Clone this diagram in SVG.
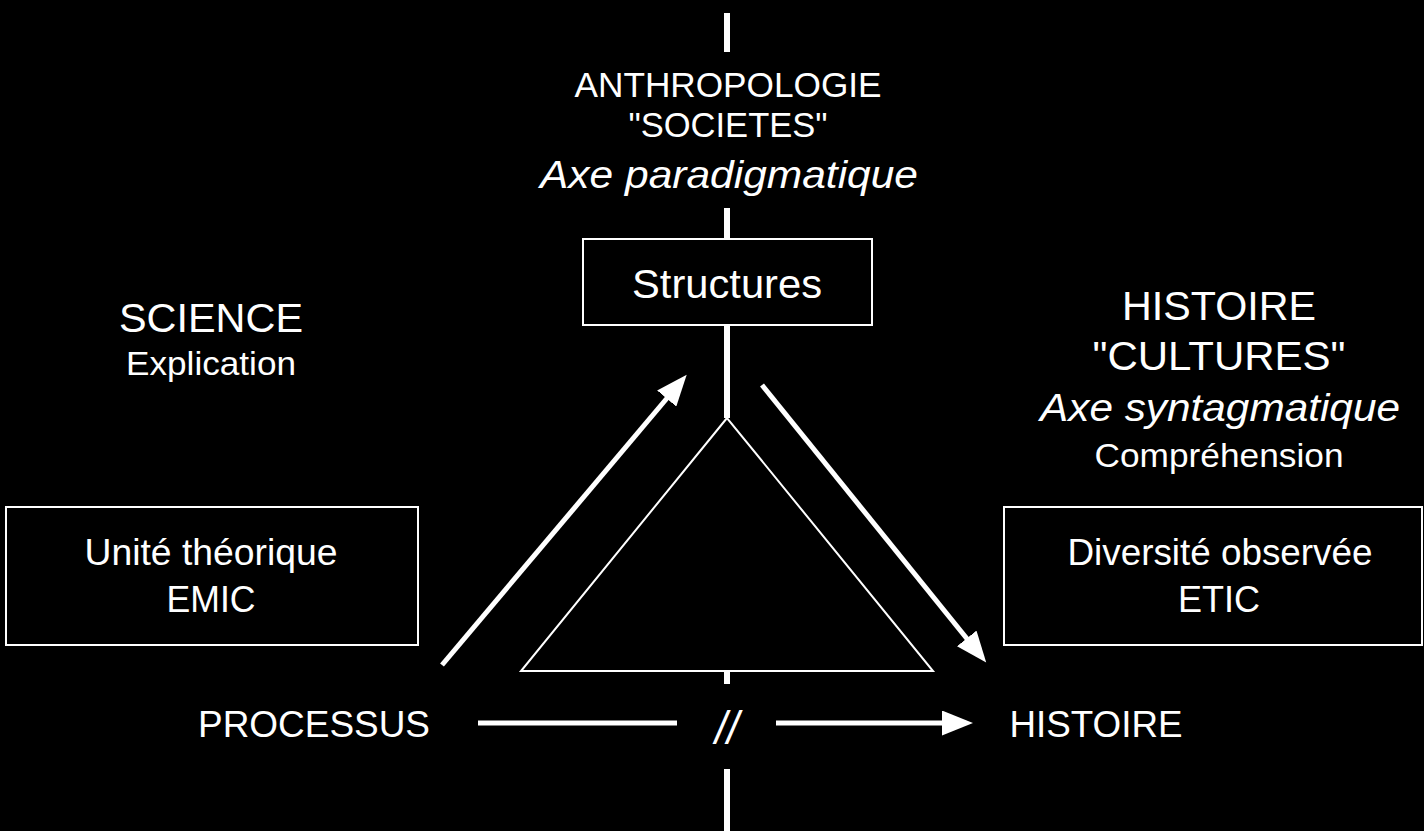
<svg xmlns="http://www.w3.org/2000/svg" width="1424" height="831" viewBox="0 0 1424 831">
<style>
  text { fill: #fff; font-family: "Liberation Sans", Arial, Helvetica, sans-serif; text-anchor: middle; }
  .it { font-style: italic; }
  .box { fill: none; stroke: #fff; stroke-width: 2; }
  .axis { stroke: #fff; stroke-width: 6; fill: none; }
  .arr { stroke: #fff; stroke-width: 5; fill: none; }
  .tri { fill: none; stroke: #fff; stroke-width: 2; stroke-linejoin: miter; }
</style>
<defs>
  <marker id="ah" markerUnits="userSpaceOnUse" markerWidth="32" markerHeight="25" refX="2" refY="12.5" orient="auto">
    <path d="M0,0 L31,12.5 L0,25 z" fill="#fff"/>
  </marker>
</defs>
<rect x="0" y="0" width="1424" height="831" fill="#000"/>

<g id="connectors">
  <line class="axis" x1="727" y1="13" x2="727" y2="52"/>
  <line class="axis" x1="727" y1="208" x2="727" y2="239"/>
  <line class="axis" x1="727" y1="325" x2="727" y2="418"/>
  <line class="axis" x1="727" y1="671" x2="727" y2="684"/>
  <line class="axis" x1="727" y1="769" x2="727" y2="831"/>
  <line class="arr" x1="442" y1="665" x2="668" y2="397" marker-end="url(#ah)"/>
  <line class="arr" x1="762" y1="385" x2="968" y2="640" marker-end="url(#ah)"/>
  <line class="arr" x1="478" y1="723" x2="677" y2="723"/>
  <line class="arr" x1="776" y1="723" x2="944" y2="723" marker-end="url(#ah)"/>
</g>

<g id="triangle">
  <polygon class="tri" points="727,418 521,671 933,671"/>
</g>

<g id="anthropologie">
  <text x="728" y="97" font-size="35" textLength="307" lengthAdjust="spacingAndGlyphs">ANTHROPOLOGIE</text>
  <text x="728" y="137" font-size="35" textLength="199" lengthAdjust="spacingAndGlyphs">"SOCIETES"</text>
  <text class="it" x="729" y="188" font-size="38" textLength="378" lengthAdjust="spacingAndGlyphs">Axe paradigmatique</text>
</g>

<g id="structures">
  <rect class="box" x="583" y="239" width="289" height="86"/>
  <text x="727" y="298" font-size="41" textLength="190" lengthAdjust="spacingAndGlyphs">Structures</text>
</g>

<g id="science">
  <text x="211" y="332" font-size="41" textLength="184" lengthAdjust="spacingAndGlyphs">SCIENCE</text>
  <text x="211" y="375" font-size="33" textLength="170" lengthAdjust="spacingAndGlyphs">Explication</text>
</g>

<g id="histoire-top">
  <text x="1219" y="320" font-size="41" textLength="194" lengthAdjust="spacingAndGlyphs">HISTOIRE</text>
  <text x="1219" y="370" font-size="41" textLength="253" lengthAdjust="spacingAndGlyphs">"CULTURES"</text>
  <text class="it" x="1220" y="421" font-size="38" textLength="360" lengthAdjust="spacingAndGlyphs">Axe syntagmatique</text>
  <text x="1219" y="467" font-size="33" textLength="249" lengthAdjust="spacingAndGlyphs">Compréhension</text>
</g>

<g id="unite">
  <rect class="box" x="6" y="507" width="412" height="138"/>
  <text x="211" y="565" font-size="36" textLength="253" lengthAdjust="spacingAndGlyphs">Unité théorique</text>
  <text x="211" y="612" font-size="36" textLength="89" lengthAdjust="spacingAndGlyphs">EMIC</text>
</g>

<g id="diversite">
  <rect class="box" x="1004" y="507" width="418" height="138"/>
  <text x="1220" y="565" font-size="36" textLength="305" lengthAdjust="spacingAndGlyphs">Diversité observée</text>
  <text x="1219" y="612" font-size="36" textLength="82" lengthAdjust="spacingAndGlyphs">ETIC</text>
</g>

<g id="processus">
  <text x="314" y="737" font-size="36" textLength="232" lengthAdjust="spacingAndGlyphs">PROCESSUS</text>
</g>

<g id="histoire-bottom">
  <text x="1096" y="737" font-size="36" textLength="173" lengthAdjust="spacingAndGlyphs">HISTOIRE</text>
</g>

<g id="break">
  <text class="it" x="727" y="744" font-size="46" textLength="24" lengthAdjust="spacingAndGlyphs">//</text>
</g>
</svg>
